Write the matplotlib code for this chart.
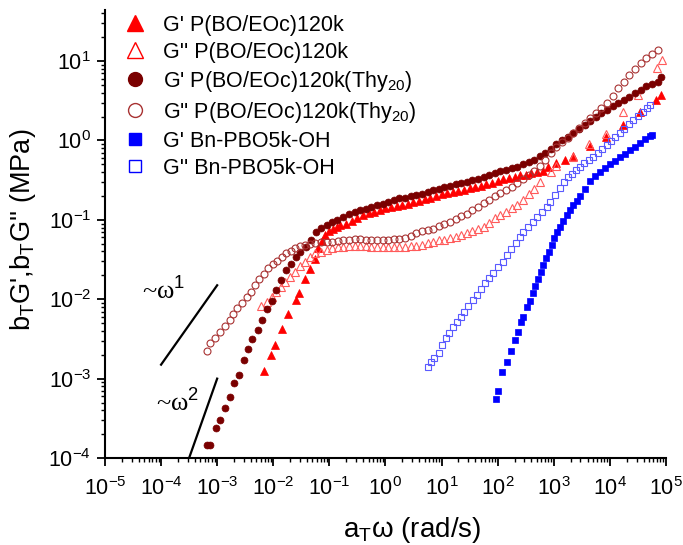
import numpy as np
import matplotlib
matplotlib.use("Agg")
import matplotlib.pyplot as plt
from matplotlib.lines import Line2D
from matplotlib.ticker import LogLocator, NullFormatter

plt.rcParams["font.family"] = ["Liberation Sans", "DejaVu Sans"]
plt.rcParams["mathtext.fontset"] = "custom"
plt.rcParams["mathtext.rm"] = "Liberation Sans"
plt.rcParams["mathtext.it"] = "Liberation Sans:italic"
plt.rcParams["mathtext.bf"] = "Liberation Sans:bold"
plt.rcParams["axes.unicode_minus"] = False

# ---- data ----
# G' P(BO/EOc)120k
w_gp_a = [6.76e-3, 9.12e-3, 1.07e-2, 1.41e-2, 1.86e-2, 2.51e-2, 2.88e-2, 3.63e-2, 4.47e-2, 5.50e-2,
          6.31e-2, 7.41e-2, 8.32e-2, 0.100, 0.117, 0.138, 0.158, 0.200, 0.251, 0.316,
          0.398, 0.501, 0.631, 0.794, 1.00, 1.26, 1.58, 2.00, 2.51, 3.16,
          3.98, 5.01, 6.31, 7.94, 10.0, 12.6, 15.8, 20.0, 25.1, 31.6,
          39.8, 50.1, 63.1, 79.4, 100, 126, 158, 200, 251, 316,
          398, 501, 631, 794, 1120, 1580, 2240, 4470, 8710, 1.70e4,
          3.47e4, 6.76e4, 8.32e4]
g_gp_a = [1.26e-3, 2.00e-3, 2.63e-3, 4.27e-3, 6.61e-3, 9.77e-3, 1.20e-2, 1.78e-2, 2.40e-2, 3.24e-2,
          4.37e-2, 5.37e-2, 6.46e-2, 7.24e-2, 7.76e-2, 8.13e-2, 8.51e-2, 8.91e-2, 9.77e-2, 0.107,
          0.115, 0.123, 0.127, 0.133, 0.140, 0.146, 0.151, 0.155, 0.160, 0.166,
          0.172, 0.182, 0.191, 0.200, 0.209, 0.216, 0.224, 0.234, 0.240, 0.251,
          0.260, 0.269, 0.282, 0.295, 0.309, 0.324, 0.335, 0.347, 0.363, 0.372,
          0.389, 0.403, 0.417, 0.468, 0.525, 0.575, 0.631, 0.851, 1.12, 1.55,
          2.29, 3.24, 3.72]

# G'' P(BO/EOc)120k
w_gpp_a = [6.17e-3, 7.59e-3, 9.33e-3, 1.12e-2, 1.35e-2, 1.62e-2, 2.00e-2, 2.45e-2, 3.02e-2, 3.63e-2,
           4.47e-2, 5.50e-2, 7.08e-2, 8.91e-2, 0.112, 0.141, 0.178, 0.224, 0.282, 0.355,
           0.447, 0.562, 0.708, 0.891, 1.12, 1.41, 1.78, 2.24, 2.82, 3.55,
           4.47, 5.62, 7.08, 8.91, 11.2, 14.1, 17.8, 22.4, 28.2, 35.5,
           44.7, 56.2, 70.8, 89.1, 112, 141, 178, 224, 282, 355,
           447, 562, 891, 1120, 2190, 4270, 8510, 1.70e4, 3.16e4, 6.92e4,
           8.51e4]
g_gpp_a = [8.20e-3, 9.31e-3, 1.07e-2, 1.24e-2, 1.44e-2, 1.66e-2, 1.92e-2, 2.22e-2, 2.62e-2, 2.96e-2,
           3.43e-2, 3.80e-2, 3.98e-2, 4.17e-2, 4.37e-2, 4.52e-2, 4.60e-2, 4.65e-2, 4.68e-2, 4.68e-2,
           4.65e-2, 4.60e-2, 4.57e-2, 4.52e-2, 4.51e-2, 4.51e-2, 4.52e-2, 4.57e-2, 4.62e-2, 4.68e-2,
           4.84e-2, 5.07e-2, 5.30e-2, 5.50e-2, 5.65e-2, 5.85e-2, 6.10e-2, 6.46e-2, 6.76e-2, 7.24e-2,
           7.76e-2, 8.22e-2, 9.12e-2, 0.106, 0.115, 0.126, 0.140, 0.155, 0.176, 0.209,
           0.245, 0.302, 0.398, 0.473, 0.617, 0.902, 1.20, 2.29, 3.72, 8.13,
           10.2]

# G' P(BO/EOc)120k(Thy20)
w_gp_b = [6.46e-4, 7.59e-4, 9.55e-4, 1.12e-3, 1.38e-3, 1.70e-3, 2.00e-3, 2.45e-3, 3.02e-3, 3.55e-3,
          4.17e-3, 5.25e-3, 6.31e-3, 7.59e-3, 9.33e-3, 1.12e-2, 1.35e-2, 1.66e-2, 2.04e-2, 2.51e-2,
          3.02e-2, 3.80e-2, 4.79e-2, 5.89e-2, 7.08e-2, 8.91e-2, 0.112, 0.135, 0.178, 0.224,
          0.282, 0.355, 0.447, 0.562, 0.708, 0.891, 1.12, 1.41, 1.78, 2.24,
          2.82, 3.55, 4.47, 5.62, 7.08, 8.91, 11.2, 14.1, 17.8, 22.4,
          28.2, 35.5, 44.7, 56.2, 70.8, 89.1, 112, 141, 178, 224,
          282, 355, 447, 562, 708, 891, 1120, 1410, 1780, 2240,
          2820, 3550, 4470, 5620, 7080, 8910, 1.12e4, 1.41e4, 1.78e4, 2.24e4,
          2.82e4, 3.55e4, 4.47e4, 5.62e4, 7.08e4, 8.32e4]
g_gp_b = [1.45e-4, 1.45e-4, 2.40e-4, 3.02e-4, 4.27e-4, 5.89e-4, 8.71e-4, 1.10e-3, 1.74e-3, 2.34e-3,
          3.16e-3, 4.07e-3, 5.50e-3, 7.59e-3, 9.55e-3, 1.32e-2, 1.74e-2, 2.34e-2, 2.82e-2, 3.39e-2,
          3.98e-2, 4.57e-2, 5.62e-2, 7.08e-2, 7.94e-2, 8.61e-2, 9.33e-2, 0.100, 0.110, 0.120,
          0.126, 0.132, 0.138, 0.145, 0.153, 0.160, 0.168, 0.176, 0.186, 0.191,
          0.200, 0.204, 0.214, 0.224, 0.237, 0.245, 0.257, 0.266, 0.279, 0.288,
          0.302, 0.316, 0.327, 0.343, 0.363, 0.385, 0.407, 0.427, 0.447, 0.468,
          0.501, 0.537, 0.569, 0.631, 0.692, 0.776, 0.912, 1.01, 1.12, 1.23,
          1.38, 1.55, 1.74, 1.95, 2.19, 2.43, 2.69, 2.95, 3.24, 3.55,
          3.98, 4.37, 4.79, 5.13, 5.50, 6.31]

# G'' P(BO/EOc)120k(Thy20)
w_gpp_b = [6.46e-4, 7.41e-4, 9.12e-4, 1.12e-3, 1.38e-3, 1.66e-3, 1.95e-3, 2.29e-3, 2.75e-3, 3.39e-3,
           3.98e-3, 4.68e-3, 5.62e-3, 6.76e-3, 8.13e-3, 9.77e-3, 1.17e-2, 1.41e-2, 1.70e-2, 2.04e-2,
           2.45e-2, 3.02e-2, 3.63e-2, 4.47e-2, 5.50e-2, 7.08e-2, 8.91e-2, 0.112, 0.141, 0.178,
           0.224, 0.282, 0.355, 0.447, 0.562, 0.708, 0.891, 1.12, 1.41, 1.78,
           2.24, 2.82, 3.55, 4.47, 5.62, 7.08, 8.91, 11.2, 14.1, 17.8,
           22.4, 28.2, 35.5, 44.7, 56.2, 70.8, 89.1, 112, 141, 178,
           224, 282, 355, 447, 562, 708, 891, 1120, 1410, 1780,
           2240, 2820, 3550, 4470, 5620, 7080, 8910, 1.12e4, 1.41e4, 1.78e4,
           2.24e4, 2.82e4, 3.55e4, 4.47e4, 5.62e4, 7.08e4]
g_gpp_b = [2.24e-3, 2.79e-3, 3.24e-3, 3.89e-3, 4.57e-3, 5.50e-3, 6.46e-3, 7.67e-3, 9.02e-3, 1.07e-2,
           1.24e-2, 1.51e-2, 1.78e-2, 2.11e-2, 2.45e-2, 2.75e-2, 3.05e-2, 3.43e-2, 3.80e-2, 4.07e-2,
           4.37e-2, 4.68e-2, 4.79e-2, 4.95e-2, 5.07e-2, 5.19e-2, 5.25e-2, 5.31e-2, 5.37e-2, 5.50e-2,
           5.62e-2, 5.69e-2, 5.69e-2, 5.62e-2, 5.62e-2, 5.62e-2, 5.62e-2, 5.62e-2, 5.69e-2, 5.75e-2,
           5.96e-2, 6.31e-2, 6.76e-2, 7.16e-2, 7.50e-2, 7.76e-2, 8.32e-2, 8.91e-2, 9.44e-2, 0.102,
           0.112, 0.120, 0.132, 0.146, 0.162, 0.178, 0.197, 0.219, 0.240, 0.263,
           0.288, 0.324, 0.363, 0.412, 0.479, 0.562, 0.692, 0.822, 0.944, 1.08,
           1.24, 1.43, 1.64, 1.91, 2.21, 2.54, 2.95, 3.63, 4.52, 5.50,
           6.61, 8.04, 9.55, 11.0, 12.3, 13.8]

# G' Bn-PBO5k-OH
w_gp_c = [92.0, 103, 118, 145, 173, 203, 233, 257, 286, 329,
          377, 421, 462, 516, 583, 650, 726, 820, 918, 1020,
          1150, 1290, 1480, 1700, 1950, 2230, 2560, 2880, 3600, 4410,
          5420, 6660, 8180, 1.00e4, 1.23e4, 1.51e4, 1.86e4, 2.28e4, 2.80e4, 3.44e4,
          4.23e4, 5.19e4, 5.62e4]
g_gp_c = [5.48e-4, 6.98e-4, 1.20e-3, 1.63e-3, 2.24e-3, 3.06e-3, 3.90e-3, 5.12e-3, 6.03e-3, 7.91e-3,
          9.57e-3, 1.19e-2, 1.47e-2, 1.79e-2, 2.22e-2, 2.70e-2, 3.27e-2, 3.96e-2, 4.82e-2, 5.85e-2,
          6.97e-2, 8.18e-2, 9.75e-2, 0.115, 0.133, 0.153, 0.173, 0.200, 0.248, 0.308,
          0.361, 0.406, 0.449, 0.505, 0.558, 0.618, 0.684, 0.757, 0.837, 0.918,
          1.03, 1.14, 1.17]

# G'' Bn-PBO5k-OH
w_gpp_c = [5.79, 6.40, 7.33, 9.10, 10.0, 12.0, 13.7, 16.2, 18.6, 21.9,
           25.1, 29.9, 35.8, 42.3, 50.4, 59.4, 70.8, 83.6, 103, 123,
           145, 173, 209, 250, 286, 351, 421, 495, 608, 746,
           855, 1050, 1290, 1520, 1810, 2110, 2490, 2930, 3520, 4240,
           5060, 6080, 7310, 8770, 1.05e4, 1.26e4, 1.51e4, 1.82e4, 2.19e4, 2.61e4,
           3.17e4, 3.94e4, 4.58e4, 5.19e4]
g_gpp_c = [1.39e-3, 1.60e-3, 1.80e-3, 2.08e-3, 2.65e-3, 3.22e-3, 3.72e-3, 4.51e-3, 5.21e-3, 6.03e-3,
           6.97e-3, 8.20e-3, 9.77e-3, 1.13e-2, 1.33e-2, 1.58e-2, 1.83e-2, 2.16e-2, 2.56e-2, 2.96e-2,
           3.61e-2, 4.25e-2, 5.06e-2, 6.03e-2, 6.97e-2, 8.18e-2, 9.46e-2, 0.109, 0.126, 0.146,
           0.169, 0.205, 0.252, 0.299, 0.349, 0.383, 0.424, 0.467, 0.515, 0.566,
           0.624, 0.700, 0.780, 0.875, 0.982, 1.10, 1.23, 1.40, 1.60, 1.81,
           2.05, 2.30, 2.56, 2.79]

# slope guide lines
slope1_w = [1e-4, 1e-3]
slope1_g = [1.5e-3, 1.5e-2]
slope2_w = [3.16e-4, 1e-3]
slope2_g = [1e-4, 1e-3]

labels = ["G' P(BO/EOc)120k",
          "G'' P(BO/EOc)120k",
          "G' P(BO/EOc)120k(Thy$_{20}$)",
          "G'' P(BO/EOc)120k(Thy$_{20}$)",
          "G' Bn-PBO5k-OH",
          "G'' Bn-PBO5k-OH"]

RED = "#ff0000"
RED_OPEN = "#ff5a5a"
DARK = "#7a0000"
DARK_OPEN = "#a83232"
BLUE = "#0000ff"
BLUE_OPEN = "#5a5aff"

fig = plt.figure(figsize=(6.83, 5.45), dpi=100)
ax = fig.add_axes([0.1537, 0.1596, 0.8213, 0.822])

ax.plot(w_gp_a, g_gp_a, ls="none", marker="^", ms=6, mfc=RED, mec=RED, mew=0.5)
ax.plot(w_gpp_a, g_gpp_a, ls="none", marker="^", ms=6, mfc="none", mec=RED_OPEN, mew=0.8)
ax.plot(w_gp_b, g_gp_b, ls="none", marker="o", ms=5, mfc=DARK, mec=DARK, mew=0.5)
ax.plot(w_gpp_b, g_gpp_b, ls="none", marker="o", ms=5, mfc="none", mec=DARK_OPEN, mew=0.8)
ax.plot(w_gp_c, g_gp_c, ls="none", marker="s", ms=4.6, mfc=BLUE, mec=BLUE, mew=0.5)
ax.plot(w_gpp_c, g_gpp_c, ls="none", marker="s", ms=4.6, mfc="none", mec=BLUE_OPEN, mew=0.8)

ax.plot(slope1_w, slope1_g, color="black", lw=1.6)
ax.plot(slope2_w, slope2_g, color="black", lw=1.6)
ax.text(4.6e-5, 9.8e-3, r"~ω$^{1}$", family=["Liberation Serif", "DejaVu Serif"],
        fontsize=19, va="baseline")
ax.text(8.2e-5, 3.8e-4, r"~ω$^{2}$", family=["Liberation Serif", "DejaVu Serif"],
        fontsize=19, va="baseline")

ax.set_xscale("log")
ax.set_yscale("log")
ax.set_xlim(1e-5, 1e5)
ax.set_ylim(1e-4, 44)

ax.xaxis.set_major_locator(LogLocator(base=10, numticks=20))
ax.yaxis.set_major_locator(LogLocator(base=10, numticks=20))
ax.xaxis.set_minor_locator(LogLocator(base=10, subs=np.arange(2, 10), numticks=100))
ax.yaxis.set_minor_locator(LogLocator(base=10, subs=np.arange(2, 10), numticks=100))
ax.xaxis.set_minor_formatter(NullFormatter())
ax.yaxis.set_minor_formatter(NullFormatter())

for s in ["top", "right"]:
    ax.spines[s].set_visible(False)
for s in ["left", "bottom"]:
    ax.spines[s].set_linewidth(1.5)
ax.tick_params(which="major", direction="out", length=6, width=1.3, labelsize=15.5)
ax.tick_params(axis="x", which="major", pad=8)
ax.tick_params(axis="y", which="major", pad=4)
ax.tick_params(which="minor", direction="out", length=3, width=1.0)

ax.set_xlabel(r"a$_{\mathrm{T}}$ω (rad/s)", fontsize=20)
ax.set_ylabel(r"b$_{\mathrm{T}}$G',b$_{\mathrm{T}}$G'' (MPa)", fontsize=19.5)
ax.xaxis.set_label_coords(0.547, -0.128)
ax.yaxis.set_label_coords(-0.12, 0.51)

handles = [
    Line2D([], [], ls="none", marker="^", ms=12, mfc=RED, mec=RED),
    Line2D([], [], ls="none", marker="^", ms=12, mfc="none", mec=RED, mew=1.0),
    Line2D([], [], ls="none", marker="o", ms=10, mfc=DARK, mec=DARK),
    Line2D([], [], ls="none", marker="o", ms=10, mfc="none", mec=DARK_OPEN, mew=1.0),
    Line2D([], [], ls="none", marker="s", ms=9, mfc=BLUE, mec=BLUE),
    Line2D([], [], ls="none", marker="s", ms=9, mfc="none", mec=BLUE, mew=1.0),
]
ax.legend(handles, labels, loc="upper left", bbox_to_anchor=(0.034, 0.99),
          frameon=False, fontsize=15.5, handlelength=1.0, handletextpad=0.8,
          borderpad=0, borderaxespad=0, labelspacing=0.28)

fig.savefig("out.png", dpi=100)
